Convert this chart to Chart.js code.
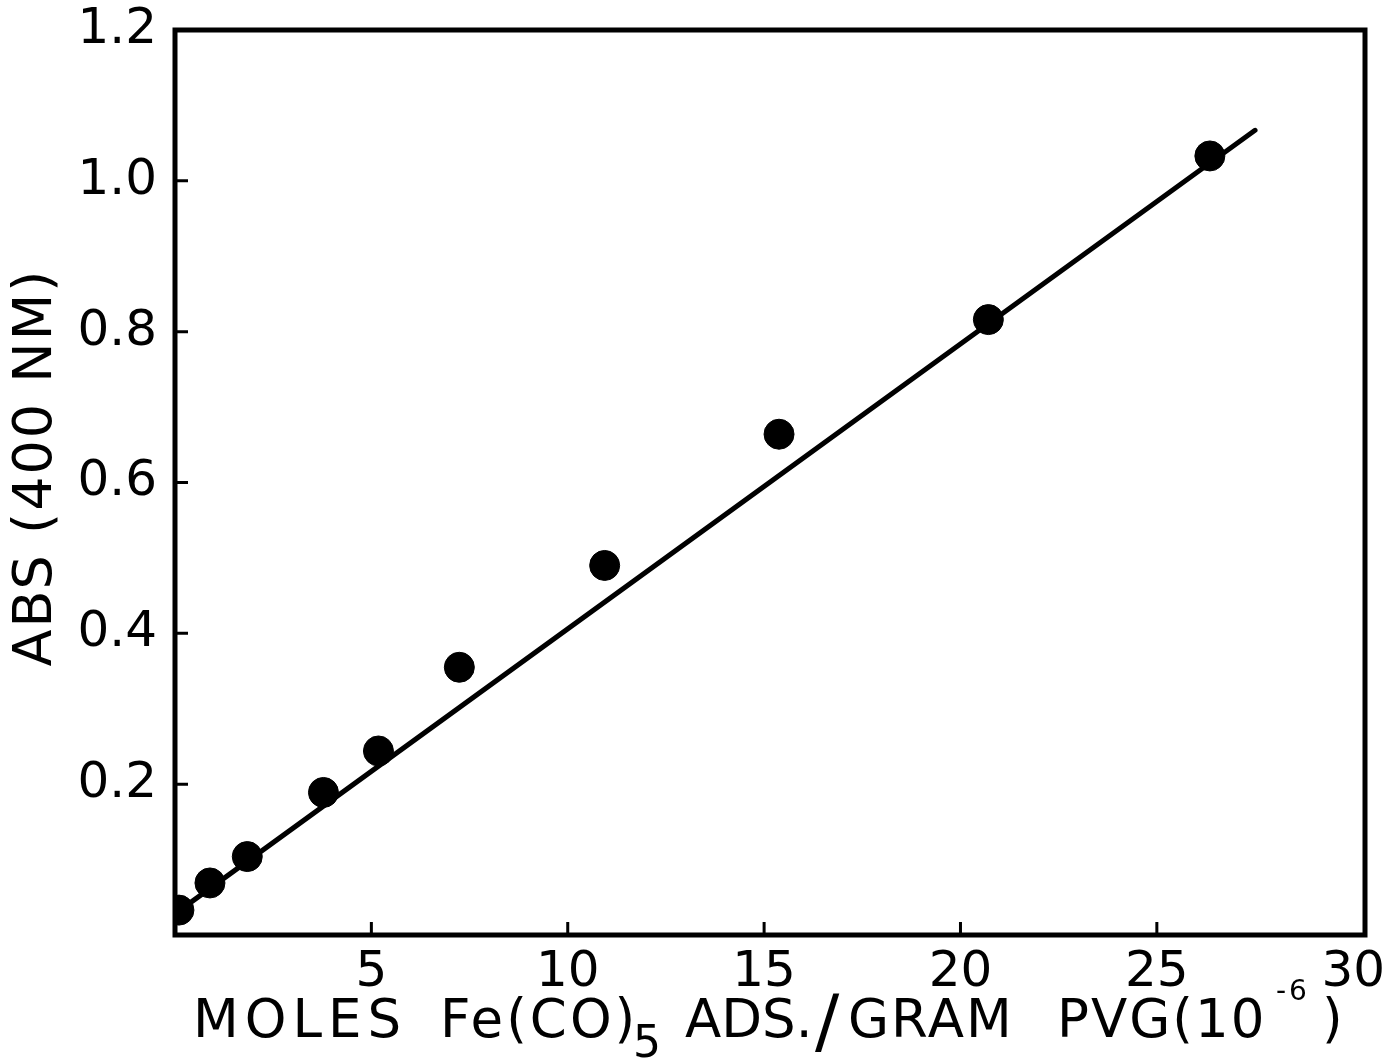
<!DOCTYPE html>
<html>
<head>
<meta charset="utf-8">
<script src="https://cdn.jsdelivr.net/npm/chart.js@4.4.1/dist/chart.umd.min.js"></script>
<style>
  html, body { margin: 0; padding: 0; background: #fff; }
  #absChart { display: block; }
</style>
</head>
<body>
<canvas id="absChart" width="1387" height="1063"></canvas>
<script>
// measured points: moles Fe(CO)5 adsorbed per gram PVG (x 10^-6) vs absorbance at 400 nm
const molesFe = [0.1, 0.89, 1.84, 3.78, 5.18, 7.24, 10.94, 15.38, 20.71, 26.35];
const absorbance = [0.033, 0.069, 0.104, 0.189, 0.244, 0.355, 0.490, 0.664, 0.816, 1.033];

// straight line drawn through the points
const fitX = [0.05, 27.5];
const fitY = [0.03, 1.067];

const xTicks = [5, 10, 15, 20, 25, 30];
const yTicks = [0.2, 0.4, 0.6, 0.8, 1.0, 1.2];

const FONT = "'DejaVu Sans', sans-serif";

// pieces of the x title: text, left edge, font size, baseline, letter spacing
const xTitleParts = [
  { t: 'MOLES', x: 193, size: 53, y: 1037, sp: 6 },
  { t: 'Fe(CO)', x: 440, size: 53, y: 1037, sp: 3 },
  { t: '5', x: 633, size: 44, y: 1057, sp: 0 },
  { t: 'ADS.', x: 685, size: 53, y: 1037, sp: 0 },
  { t: '/', x: 815, size: 72, y: 1045, sp: 0 },
  { t: 'GRAM', x: 848, size: 53, y: 1037, sp: 2 },
  { t: 'PVG(10', x: 1057, size: 53, y: 1037, sp: 2 },
  { t: '-6', x: 1276, size: 28, y: 1000, sp: 3 },
  { t: ')', x: 1322, size: 53, y: 1037, sp: 0 }
];
const yTitle = 'ABS (400 NM)';

// frame, inward tick marks and both axis titles
const framePlugin = {
  id: 'frame',
  afterDraw(chart) {
    const { ctx, chartArea: a, scales } = chart;
    ctx.save();
    ctx.strokeStyle = '#000';
    ctx.lineWidth = 5;
    ctx.strokeRect(a.left, a.top, a.right - a.left, a.bottom - a.top);

    ctx.lineWidth = 3;
    ctx.beginPath();
    yTicks.slice(0, -1).forEach(v => {
      const y = scales.y.getPixelForValue(v);
      ctx.moveTo(a.left, y);
      ctx.lineTo(a.left + 13, y);
    });
    xTicks.slice(0, -1).forEach(v => {
      const x = scales.x.getPixelForValue(v);
      ctx.moveTo(x, a.bottom);
      ctx.lineTo(x, a.bottom - 13);
    });
    ctx.stroke();

    ctx.fillStyle = '#000';
    ctx.textBaseline = 'alphabetic';
    ctx.textAlign = 'left';
    xTitleParts.forEach(p => {
      ctx.font = `${p.size}px ${FONT}`;
      ctx.letterSpacing = `${p.sp}px`;
      ctx.fillText(p.t, p.x, p.y);
    });

    // rotated y title
    ctx.translate(37, (a.top + a.bottom) / 2 - 15);
    ctx.rotate(-Math.PI / 2);
    ctx.font = `54px ${FONT}`;
    ctx.letterSpacing = '2px';
    ctx.textAlign = 'center';
    ctx.textBaseline = 'middle';
    ctx.fillText(yTitle, 0, 0);
    ctx.restore();
  }
};

new Chart(document.getElementById('absChart'), {
  type: 'scatter',
  data: {
    datasets: [
      {
        label: 'ABS',
        data: molesFe.map((v, i) => ({ x: v, y: absorbance[i] })),
        backgroundColor: '#000',
        borderColor: '#000',
        pointRadius: 15,
        pointHoverRadius: 15
      },
      {
        type: 'line',
        label: 'fit',
        data: fitX.map((v, i) => ({ x: v, y: fitY[i] })),
        borderColor: '#000',
        borderWidth: 5,
        borderCapStyle: 'round',
        pointRadius: 0,
        fill: false
      }
    ]
  },
  options: {
    responsive: false,
    animation: false,
    layout: { padding: { left: 0, top: 30, right: 22, bottom: 0 } },
    plugins: {
      legend: { display: false },
      tooltip: { enabled: false }
    },
    scales: {
      x: {
        type: 'linear',
        min: 0,
        max: 30.3,
        afterBuildTicks: s => { s.ticks = xTicks.map(v => ({ value: v })); },
        afterFit: s => { s.height = 128; s.paddingLeft = 0; s.paddingRight = 0; },
        border: { display: false },
        grid: { display: false },
        ticks: {
          color: '#000',
          padding: 0,
          font: { family: FONT, size: 50 },
          callback: v => String(v),
          maxRotation: 0
        }
      },
      y: {
        min: 0,
        max: 1.2,
        afterBuildTicks: s => { s.ticks = yTicks.map(v => ({ value: v })); },
        afterFit: s => { s.width = 175; s.paddingTop = 0; s.paddingBottom = 0; },
        border: { display: false },
        grid: { display: false },
        ticks: {
          color: '#000',
          padding: 10,
          font: { family: FONT, size: 50 },
          callback: v => Number(v).toFixed(1)
        }
      }
    }
  },
  plugins: [framePlugin]
});
</script>
</body>
</html>
